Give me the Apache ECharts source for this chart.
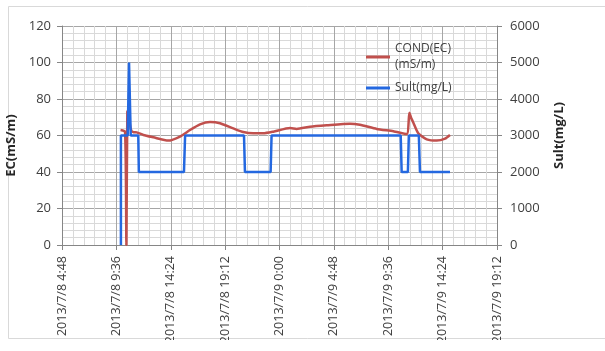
<!DOCTYPE html>
<html>
<head>
<meta charset="utf-8">
<script src="https://cdn.jsdelivr.net/npm/echarts@6/dist/echarts.min.js"></script>
<style>
  html, body { margin: 0; padding: 0; background: #ffffff; }
  #chart { width: 605px; height: 340px; }
</style>
</head>
<body>
<div id="chart"></div>
<script>
// Time is counted in minutes from 2013/7/8 0:00
const axisStartMin = 288;     // 2013/7/8 4:48
const axisEndMin = 2592;      // 2013/7/9 19:12
const axisStepMin = 288;      // 4 h 48 min between labels

// Conductivity, mS/m (left axis)
const condMinutes = [598, 622, 629, 634, 641, 648, 656, 668, 684, 719, 772, 851, 913, 966, 1019, 1072, 1125, 1195, 1248, 1301, 1354, 1407, 1496, 1531, 1602, 1690, 1813, 1866, 1955, 2043, 2114, 2128, 2136, 2149, 2175, 2220, 2273, 2317, 2343];
const condValues  = [63, 62, 0, 73, 74, 66, 62.5, 61.8, 61.7, 60.3, 59, 57.2, 59.4, 63, 66.1, 67.4, 66.7, 63.9, 61.9, 61.2, 61.2, 62.1, 64.1, 63.6, 64.8, 65.6, 66.5, 65.9, 63.6, 62.3, 60.8, 72.5, 70, 67, 61.2, 57.9, 57.2, 58.3, 60.3];

// Salinity, mg/L (right axis)
const sultMinutes = [600, 600, 636, 643, 652, 692, 695, 934, 940, 1252, 1257, 1393, 1398, 2082, 2087, 2120, 2125, 2178, 2184, 2343];
const sultValues  = [0, 3000, 3000, 5000, 3000, 3000, 2000, 2000, 3000, 3000, 2000, 2000, 3000, 3000, 2000, 2000, 3000, 3000, 2000, 2000];

const condName = 'COND(EC)\n(mS/m)';
const sultName = 'Sult(mg/L)';

const zip = (xs, ys) => xs.map((x, i) => [x, ys[i]]);

function minuteLabel(v) {
  const m = Math.round(v);
  const day = 8 + Math.floor(m / 1440);
  const rem = m % 1440;
  const h = Math.floor(rem / 60);
  const mm = rem % 60;
  return '2013/7/' + day + ' ' + h + ':' + (mm < 10 ? '0' : '') + mm;
}

const font = '"Open Sans", sans-serif';
const textColor = '#404040';
const majorGrid = '#a6a6a6';
const minorGrid = '#d9d9d9';
const condColor = '#c0504d';
const sultColor = '#2468e0';

const chart = echarts.init(document.getElementById('chart'), null, { renderer: 'canvas' });

const legendBase = {
  left: 366, padding: 0,
  icon: 'rect', itemWidth: 24, itemHeight: 3,
  textStyle: { fontFamily: font, fontSize: 12, color: textColor, lineHeight: 16 }
};

chart.setOption({
  animation: false,
  backgroundColor: '#ffffff',
  textStyle: { fontFamily: font },
  graphic: [{
    type: 'rect',
    silent: true,
    z: -10,
    shape: { x: 8.5, y: 6.5, width: 605, height: 332 },
    style: { fill: 'none', stroke: '#d9d9d9', lineWidth: 1 }
  }],
  grid: { left: 62, right: 108, top: 26, bottom: 95, containLabel: false, outerBoundsMode: 'none' },
  legend: [Object.assign({}, legendBase, {
    top: 33,
    data: [{ name: condName, textStyle: { padding: [16, 0, 0, 0] } }]
  }), Object.assign({}, legendBase, {
    top: 80,
    data: [sultName]
  })],
  xAxis: {
    type: 'value',
    min: axisStartMin, max: axisEndMin, interval: axisStepMin,
    axisLine: { show: true, onZero: false, lineStyle: { color: '#868686' } },
    axisTick: { show: true, length: 5, lineStyle: { color: '#868686' } },
    minorTick: { show: false, splitNumber: 5 },
    splitLine: { show: true, lineStyle: { color: majorGrid, width: 1 } },
    minorSplitLine: { show: true, lineStyle: { color: minorGrid, width: 1 } },
    axisLabel: {
      rotate: 90, margin: 11, fontSize: 12.5, color: textColor, fontFamily: font,
      padding: [8, 0, 0, 0],
      formatter: minuteLabel
    }
  },
  yAxis: [{
    type: 'value', min: 0, max: 120, interval: 20,
    name: 'EC(mS/m)', nameLocation: 'middle', nameRotate: 90, nameGap: 44,
    nameTextStyle: { fontFamily: font, fontSize: 13, fontWeight: 'bold', color: '#262626', padding: [0, 0, 0, -20] },
    axisLine: { show: true, lineStyle: { color: '#868686' } },
    axisTick: { show: true, length: 5, lineStyle: { color: '#868686' } },
    minorTick: { show: false, splitNumber: 5 },
    splitLine: { show: true, lineStyle: { color: majorGrid, width: 1 } },
    minorSplitLine: { show: true, lineStyle: { color: minorGrid, width: 1 } },
    axisLabel: { margin: 11, fontSize: 13, color: textColor, fontFamily: font }
  }, {
    type: 'value', min: 0, max: 6000, interval: 1000, position: 'right',
    name: 'Sult(mg/L)', nameLocation: 'middle', nameRotate: 90, nameGap: 56,
    nameTextStyle: { fontFamily: font, fontSize: 13, fontWeight: 'bold', color: '#262626' },
    axisLine: { show: true, lineStyle: { color: '#868686' } },
    axisTick: { show: true, length: 5, lineStyle: { color: '#868686' } },
    splitLine: { show: false },
    axisLabel: { margin: 13, fontSize: 13, color: textColor, fontFamily: font, formatter: v => String(v) }
  }],
  series: [{
    name: condName,
    type: 'line',
    yAxisIndex: 0,
    data: zip(condMinutes, condValues),
    symbol: 'none',
    smooth: 0.2,
    lineStyle: { color: condColor, width: 2.5 },
    itemStyle: { color: condColor }
  }, {
    name: sultName,
    type: 'line',
    yAxisIndex: 1,
    data: zip(sultMinutes, sultValues),
    symbol: 'none',
    lineStyle: { color: sultColor, width: 2.5 },
    itemStyle: { color: sultColor }
  }]
});
</script>
</body>
</html>
